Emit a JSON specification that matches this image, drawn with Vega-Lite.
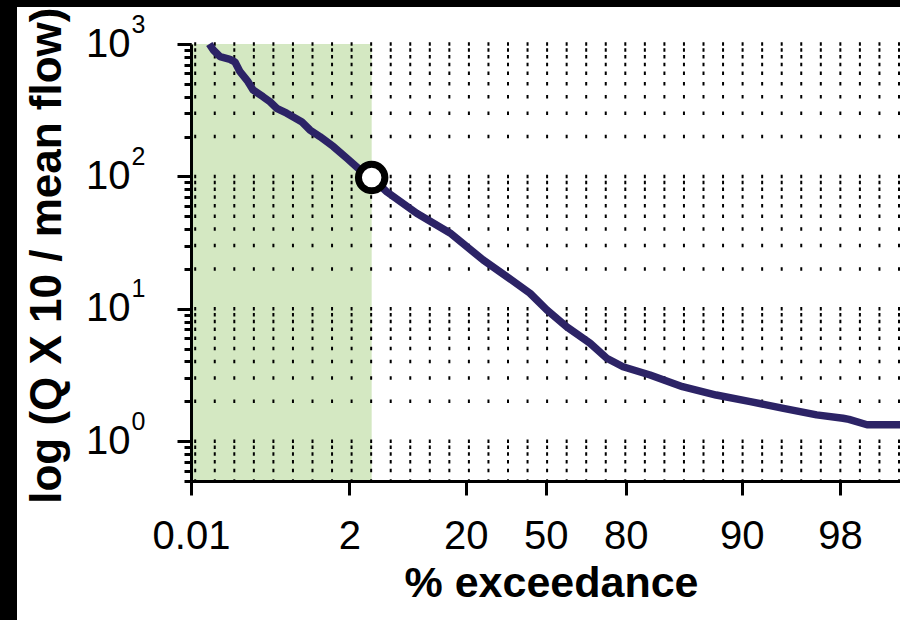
{
  "$schema": "https://vega.github.io/schema/vega-lite/v6.json",
  "padding": 0,
  "background": "white",
  "config": {
    "view": {"stroke": null},
    "font": "Liberation Sans",
    "axis": {"labelFont": "Liberation Sans", "titleFont": "Liberation Sans", "labelColor": "black", "titleColor": "black"}
  },
  "spacing": 0,
  "hconcat": [
    {
      "width": 17,
      "height": 620,
      "view": {"fill": "black", "stroke": null},
      "data": {"values": []},
      "mark": "rect",
      "encoding": {}
    },
    {
      "spacing": 0,
      "vconcat": [
        {
          "width": 883,
          "height": 7,
          "view": {"fill": "black", "stroke": null},
          "data": {"values": []},
          "mark": "rect",
          "encoding": {}
        },
        {
          "spacing": 7,
          "hconcat": [
            {
              "width": 1,
              "height": 1,
              "data": {"values": []},
              "mark": "rect",
              "encoding": {}
            },
            {
              "width": 709,
              "height": 437,
              "resolve": {"axis": {"y": "independent"}},
              "layer": [
                {
                  "data": {"values": [{"pct": 0.01, "pct2": 5.46, "q": 0.5, "q2": 1000}]},
                  "mark": {"type": "rect", "color": "#d4e8c2"},
                  "encoding": {
                    "x": {"field": "pct", "type": "quantitative",
                      "scale": {"type": "linear", "domain": [0.01, 2, 20, 50, 80, 90, 98, 100], "range": [0, 158.3, 274.7, 354.7, 434.7, 550.7, 649, 709], "nice": false, "zero": false},
                      "axis": {"values": [0.01, 2, 20, 50, 80, 90, 98], "format": "~g", "domainWidth": 3, "domainColor": "black", "tickSize": 14, "tickWidth": 3, "tickColor": "black", "labelFontSize": 40, "labelPadding": 21, "labelFlush": false, "labelOverlap": false, "labelBound": false, "grid": false, "title": "% exceedance", "titleFontSize": 43, "titleFontWeight": "bold", "titlePadding": 6, "titleX": 360, "zindex": 1}},
                    "x2": {"field": "pct2"},
                    "y": {"field": "q", "type": "quantitative", "scale": {"type": "log", "domain": [0.5, 1000], "nice": false}, "axis": null},
                    "y2": {"field": "q2"}
                  }
                },
                {
                  "data": {"values": [
                    {"lvl": 0.5}, {"lvl": 0.6}, {"lvl": 0.7}, {"lvl": 0.8}, {"lvl": 0.9},
                    {"lvl": 1}, {"lvl": 2}, {"lvl": 3}, {"lvl": 4}, {"lvl": 5}, {"lvl": 6}, {"lvl": 7}, {"lvl": 8}, {"lvl": 9},
                    {"lvl": 10}, {"lvl": 20}, {"lvl": 30}, {"lvl": 40}, {"lvl": 50}, {"lvl": 60}, {"lvl": 70}, {"lvl": 80}, {"lvl": 90},
                    {"lvl": 100}, {"lvl": 200}, {"lvl": 300}, {"lvl": 400}, {"lvl": 500}, {"lvl": 600}, {"lvl": 700}, {"lvl": 800}, {"lvl": 900},
                    {"lvl": 1000}
                  ]},
                  "mark": {"type": "rule", "color": "black", "strokeWidth": 3.5, "strokeDash": [2, 17.55], "strokeCap": "butt"},
                  "encoding": {
                    "y": {"field": "lvl", "type": "quantitative", "scale": {"type": "log", "domain": [0.5, 1000], "nice": false},
                      "axis": {"orient": "left", "values": [0.5, 0.6, 0.7, 0.8, 0.9, 1, 2, 3, 4, 5, 6, 7, 8, 9, 10, 20, 30, 40, 50, 60, 70, 80, 90, 100, 200, 300, 400, 500, 600, 700, 800, 900, 1000],
                        "labelExpr": "datum.value == 1 ? '0' : datum.value == 10 ? '1' : datum.value == 100 ? '2' : datum.value == 1000 ? '3' : ''",
                        "domain": false, "ticks": true, "tickSize": 7, "tickWidth": 3, "tickColor": "black",
                        "labelFontSize": 25, "labelPadding": 53, "labelAlign": "left", "labelBaseline": "middle", "labelOffset": -20,
                        "labelOverlap": false, "labelFlush": false, "labelBound": false, "title": null, "grid": false, "zindex": 1}}
                  }
                },
                {
                  "data": {"values": [
                    {"pct": 0.24, "q": 1000}, {"pct": 0.29, "q": 901}, {"pct": 0.375, "q": 802}, {"pct": 0.5, "q": 766},
                    {"pct": 0.563, "q": 731}, {"pct": 0.626, "q": 618}, {"pct": 0.727, "q": 519}, {"pct": 0.789, "q": 450},
                    {"pct": 0.915, "q": 400}, {"pct": 1.003, "q": 366}, {"pct": 1.087, "q": 327}, {"pct": 1.213, "q": 300},
                    {"pct": 1.4, "q": 259}, {"pct": 1.506, "q": 224}, {"pct": 1.63, "q": 200}, {"pct": 1.8, "q": 168},
                    {"pct": 1.97, "q": 137}, {"pct": 3.65, "q": 112}, {"pct": 5.46, "q": 98}, {"pct": 7.78, "q": 76.6},
                    {"pct": 12.42, "q": 52.6}, {"pct": 17.57, "q": 37.4}, {"pct": 26.5, "q": 23.4}, {"pct": 35.4, "q": 17.5},
                    {"pct": 44.1, "q": 13.1}, {"pct": 50.4, "q": 9.8}, {"pct": 57.9, "q": 7.3}, {"pct": 66.6, "q": 5.5},
                    {"pct": 72.9, "q": 4.23}, {"pct": 79.0, "q": 3.65}, {"pct": 82.1, "q": 3.16}, {"pct": 84.9, "q": 2.58},
                    {"pct": 87.8, "q": 2.23}, {"pct": 90.7, "q": 1.99}, {"pct": 93.4, "q": 1.77}, {"pct": 96.1, "q": 1.58},
                    {"pct": 98.1, "q": 1.49}, {"pct": 98.3, "q": 1.46}, {"pct": 98.9, "q": 1.33}, {"pct": 100, "q": 1.33}
                  ]},
                  "mark": {"type": "line", "color": "#2c2366", "strokeWidth": 7.5, "strokeJoin": "round", "strokeCap": "butt"},
                  "encoding": {
                    "x": {"field": "pct", "type": "quantitative",
                      "scale": {"type": "linear", "domain": [0.01, 2, 20, 50, 80, 90, 98, 100], "range": [0, 158.3, 274.7, 354.7, 434.7, 550.7, 649, 709], "nice": false, "zero": false},
                      "axis": {"values": [0.01, 2, 20, 50, 80, 90, 98], "format": "~g", "domainWidth": 3, "domainColor": "black", "tickSize": 14, "tickWidth": 3, "tickColor": "black", "labelFontSize": 40, "labelPadding": 21, "labelFlush": false, "labelOverlap": false, "labelBound": false, "grid": false, "title": "% exceedance", "titleFontSize": 43, "titleFontWeight": "bold", "titlePadding": 6, "titleX": 360, "zindex": 1}},
                    "y": {"field": "q", "type": "quantitative", "scale": {"type": "log", "domain": [0.5, 1000], "nice": false},
                      "axis": {"orient": "left", "values": [1, 10, 100, 1000], "labelExpr": "'10'",
                        "domain": true, "domainColor": "black", "domainWidth": 3,
                        "ticks": true, "tickColor": "black", "tickWidth": 3, "tickSize": 14,
                        "labelFontSize": 40, "labelPadding": 47, "labelAlign": "right", "labelBaseline": "middle",
                        "labelOverlap": false, "labelFlush": false, "labelBound": false, "grid": false,
                        "title": "log (Q X 10 / mean flow)", "titleFontSize": 44, "titleFontWeight": "bold",
                        "titlePadding": 16, "titleY": -37, "titleAlign": "right", "titleBaseline": "bottom", "titleAngle": 270, "zindex": 1}}
                  }
                },
                {
                  "data": {"values": [{"pct": 5.46, "q": 98}]},
                  "mark": {"type": "circle", "fill": "white", "stroke": "black", "strokeWidth": 7, "size": 700, "opacity": 1, "fillOpacity": 1},
                  "encoding": {
                    "x": {"field": "pct", "type": "quantitative",
                      "scale": {"type": "linear", "domain": [0.01, 2, 20, 50, 80, 90, 98, 100], "range": [0, 158.3, 274.7, 354.7, 434.7, 550.7, 649, 709], "nice": false, "zero": false}},
                    "y": {"field": "q", "type": "quantitative", "scale": {"type": "log", "domain": [0.5, 1000], "nice": false}, "axis": null}
                  }
                }
              ]
            }
          ]
        }
      ]
    }
  ]
}
